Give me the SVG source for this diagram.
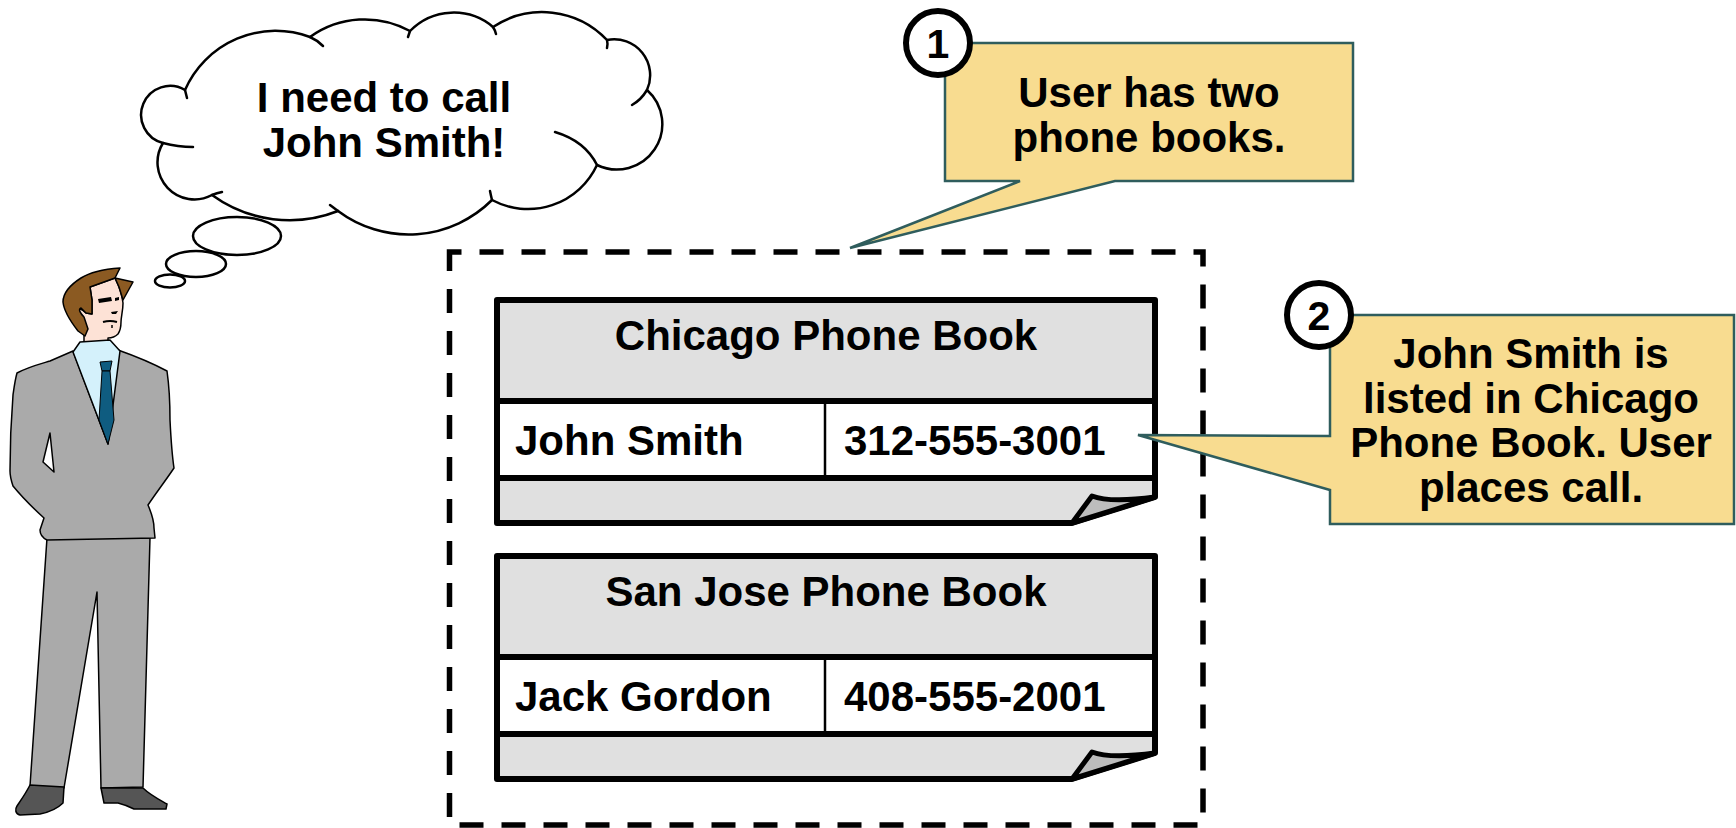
<svg xmlns="http://www.w3.org/2000/svg" width="1736" height="828" viewBox="0 0 1736 828">
  <style>
    .t { font-family: "Liberation Sans", Arial, sans-serif; font-weight: bold; fill: #000; }
    .big { font-size: 42px; }
    .mid { text-anchor: middle; }
    .cloud { fill: #fff; stroke: #000; stroke-width: 2.5; }
    .curl { fill: none; stroke: #000; stroke-width: 2.5; stroke-linecap: round; }
    .suit { fill: #AAAAAA; stroke: #000; stroke-width: 1.5; stroke-linejoin: round; }
    .book { fill: #E0E0E0; }
    .edge { fill: none; stroke: #000; stroke-width: 6; stroke-linejoin: round; }
    .rule { stroke: #000; stroke-width: 6; }
    .fold { fill: #BDBDBD; stroke: #000; stroke-width: 5; stroke-linejoin: round; }
    .note { fill: #F8DC90; stroke: #2F5D5D; stroke-width: 2.5; stroke-linejoin: miter; }
    .badge { fill: #fff; stroke: #000; stroke-width: 6; }
  </style>

  <rect width="1736" height="828" fill="#fff"/>

  <!-- thought cloud -->
  <g id="thought">
    <ellipse class="cloud" cx="170" cy="281" rx="15" ry="6.5"/>
    <ellipse class="cloud" cx="196" cy="264" rx="30" ry="13"/>
    <ellipse class="cloud" cx="237" cy="236" rx="44" ry="19"/>
    <path class="cloud" d="M185,90 A99,99 0 0 1 310,37 A94,94 0 0 1 410,31 A61,61 0 0 1 493,27 A89,89 0 0 1 607,40 A36,36 0 0 1 647,90 A45.5,45.5 0 0 1 597,165 A76,76 0 0 1 492,200 A118,118 0 0 1 338,211 A132,132 0 0 1 212,195 A37,37 0 0 1 163,143 A29,29 0 1 1 185,90 Z"/>
    <path class="curl" d="M185,90 Q186,94 187,98"/>
    <path class="curl" d="M310,37 Q317,40 323,46"/>
    <path class="curl" d="M410,31 Q409,34 408,37"/>
    <path class="curl" d="M493,27 Q495,30 496,34"/>
    <path class="curl" d="M607,40 Q608,44 607,48"/>
    <path class="curl" d="M647,90 Q641,100 632,105"/>
    <path class="curl" d="M555,132 Q585,141 597,165"/>
    <path class="curl" d="M492,200 Q491,196 490,191"/>
    <path class="curl" d="M338,211 Q334,208 330,205"/>
    <path class="curl" d="M212,195 Q217,193 222,192"/>
    <path class="curl" d="M163,143 Q178,147 193,147"/>
    <text class="t big mid" x="384" y="112">I need to call</text>
    <text class="t big mid" x="384" y="157">John Smith!</text>
  </g>

  <!-- user figure -->
  <g id="user">
    <path class="suit" d="M47,538 L150,538 L143,787 L101,788 L97,592 L64,788 L30,786 Z"/>
    <path fill="#555" stroke="#000" stroke-width="1.5" stroke-linejoin="round" d="M30,785 L64,787 L63,803 C58,808 50,812 40,814 L20,815 C15,814 15,809 17,806 C21,800 26,793 30,785 Z"/>
    <path fill="#555" stroke="#000" stroke-width="1.5" stroke-linejoin="round" d="M101,788 L143,788 C150,795 160,800 167,804 L166,809 L134,809 C128,806 122,804 118,803 L104,803 Z"/>
    <path class="suit" d="M73,351 L108,444 L118,350 C135,356 152,363 167,371 C169,385 170,400 170,420 C171,440 172,455 174,468 C166,480 156,493 148,505 C151,512 154,520 154,528 L155,538 L47,540 C43,538 40,534 40,530 L44,518 C33,508 22,497 13,486 C11,480 10,476 10,471 C10,445 11,420 13,395 C14,388 15,380 17,373 C28,367 40,364 50,361 Z"/>
    <path fill="#fff" stroke="#000" stroke-width="1.5" stroke-linejoin="round" d="M50,433 L43,462 L54,472 Z"/>
    <path fill="#FDE2D6" stroke="#000" stroke-width="1.5" stroke-linejoin="round" d="M90,287 L115,278 C119,286 122,294 123,303 C123,311 121,317 121,322 C121,327 120,331 118,334 C115,337 112,338 108,338 L108,347 L84,347 L84,334 C81,329 79,325 78,321 C74,319 72,314 74,310 C77,307 82,309 86,313 L92,314 L92,300 Z"/>
    <path fill="#8B5A22" stroke="#000" stroke-width="1.5" stroke-linejoin="round" d="M120,268 C106,269 92,271 81,278 C70,285 63,294 63,302 C64,312 71,322 78,331 L85,336 L88,329 L84,317 C80,313 78,309 81,308 L86,313 L92,314 L92,300 L90,287 L115,278 Z"/>
    <path fill="#8B5A22" stroke="#000" stroke-width="1.5" stroke-linejoin="round" d="M115,278 L133,282 L123,300 L119,287 Z"/>
    <path fill="#000" d="M98,299 L111,297 L112,301 L99,303 Z"/>
    <path fill="#000" d="M115,298 L119,297 L119,300 L115,301 Z"/>
    <path fill="#000" d="M111,312 L118,311 L116,314 L112,314 Z"/>
    <path fill="none" stroke="#000" stroke-width="2" d="M103,322 Q110,320 117,322"/>
    <path fill="none" stroke="#000" stroke-width="1.5" d="M112,325 L112,328"/>
    <path fill="#D4F1FB" stroke="#000" stroke-width="1.5" stroke-linejoin="round" d="M80,342 L110,340 L120,351 L108,444 L73,352 Z"/>
    <path fill="#0F5C80" stroke="#000" stroke-width="1" stroke-linejoin="round" d="M100,362 L112,361 L110,371 L102,371 Z"/>
    <path fill="#0F5C80" stroke="#000" stroke-width="1" stroke-linejoin="round" d="M102,371 L110,371 L114,420 L108,444 L99,420 Z"/>
  </g>

  <!-- grouping frame around both phone books -->
  <g id="books-frame">
    <rect x="449.5" y="252" width="753.5" height="573" fill="none" stroke="#000" stroke-width="5.5" stroke-dasharray="24 18" stroke-dashoffset="12"/>
  </g>

  <!-- Chicago phone book -->
  <g id="book-chicago">
    <path class="book" d="M497,300 H1155 V497 L1072,523 H497 Z"/>
    <rect x="497" y="401" width="658" height="77" fill="#fff"/>
    <line class="rule" x1="497" y1="401" x2="1155" y2="401"/>
    <line class="rule" x1="497" y1="478" x2="1155" y2="478"/>
    <line x1="825" y1="401" x2="825" y2="478" stroke="#000" stroke-width="2.5"/>
    <path class="edge" d="M497,300 H1155 V497 L1072,523 H497 Z"/>
    <path class="fold" d="M1072,523 L1092,496 Q1110,503 1155,497 Z"/>
    <text class="t big mid" x="826" y="350">Chicago Phone Book</text>
    <text class="t big" x="515" y="455">John Smith</text>
    <text class="t big" x="844" y="455">312-555-3001</text>
  </g>

  <!-- San Jose phone book -->
  <g id="book-sanjose">
    <path class="book" d="M497,556 H1155 V753 L1072,779 H497 Z"/>
    <rect x="497" y="657" width="658" height="77" fill="#fff"/>
    <line class="rule" x1="497" y1="657" x2="1155" y2="657"/>
    <line class="rule" x1="497" y1="734" x2="1155" y2="734"/>
    <line x1="825" y1="657" x2="825" y2="734" stroke="#000" stroke-width="2.5"/>
    <path class="edge" d="M497,556 H1155 V753 L1072,779 H497 Z"/>
    <path class="fold" d="M1072,779 L1092,752 Q1110,759 1155,753 Z"/>
    <text class="t big mid" x="826" y="606">San Jose Phone Book</text>
    <text class="t big" x="515" y="711">Jack Gordon</text>
    <text class="t big" x="844" y="711">408-555-2001</text>
  </g>

  <!-- callout pointers (tails are part of each callout outline) -->
  <g id="connectors">
    <path class="note" d="M945,43 H1353 V181 H1115 L850,248 L1020,181 H945 Z"/>
    <path class="note" d="M1330,315 H1734 V524 H1330 V490 L1138,435 L1330,436 Z"/>
  </g>

  <!-- callout 1 -->
  <g id="callout-1">
    <text class="t big mid" x="1149" y="107">User has two</text>
    <text class="t big mid" x="1149" y="152">phone books.</text>
    <circle class="badge" cx="938" cy="43" r="32"/>
    <text class="t mid" x="938" y="58" font-size="41">1</text>
  </g>

  <!-- callout 2 -->
  <g id="callout-2">
    <text class="t big mid" x="1531" y="368">John Smith is</text>
    <text class="t big mid" x="1531" y="413">listed in Chicago</text>
    <text class="t big mid" x="1531" y="457">Phone Book. User</text>
    <text class="t big mid" x="1531" y="502">places call.</text>
    <circle class="badge" cx="1319" cy="315" r="32"/>
    <text class="t mid" x="1319" y="330" font-size="41">2</text>
  </g>
</svg>
